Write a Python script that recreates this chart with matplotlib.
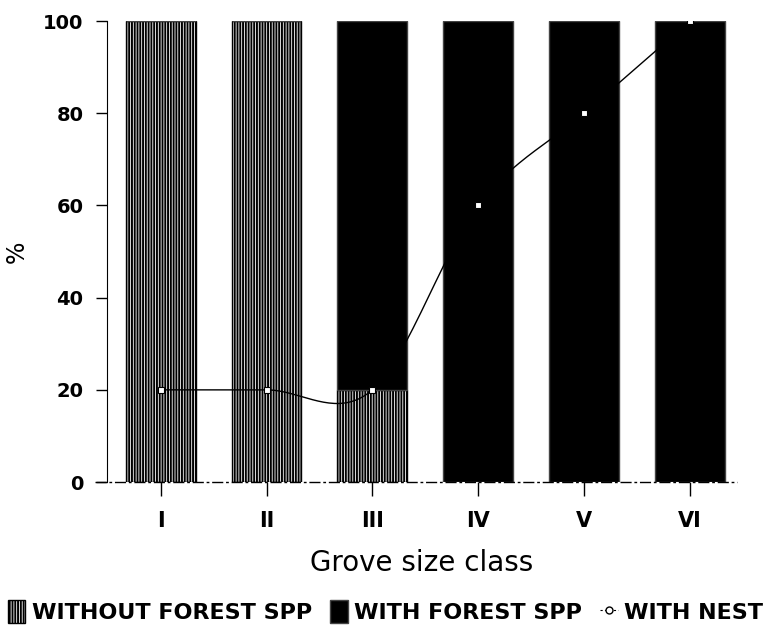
import numpy as np
import matplotlib.pyplot as plt
from matplotlib.patches import Patch
from matplotlib.lines import Line2D

plt.rcParams['font.family'] = ['DejaVu Sans']
plt.rcParams['hatch.linewidth'] = 1.4

# Data
classes = ["I", "II", "III", "IV", "V", "VI"]
without_forest = [100, 100, 20, 0, 0, 0]
with_forest = [0, 0, 80, 100, 100, 100]
with_nest = [20, 20, 20, 60, 80, 100]


# Catmull-Rom curve, only used to draw the smooth line through the points
def smooth_line(x, y, n=40):
    x = np.asarray(x, float)
    y = np.asarray(y, float)
    m = np.gradient(y, x)
    xs, ys = [], []
    for i in range(len(x) - 1):
        t = np.linspace(0, 1, n)
        h = x[i + 1] - x[i]
        h00 = 2 * t**3 - 3 * t**2 + 1
        h10 = t**3 - 2 * t**2 + t
        h01 = -2 * t**3 + 3 * t**2
        h11 = t**3 - t**2
        xs.append(x[i] + t * h)
        ys.append(h00 * y[i] + h10 * h * m[i] + h01 * y[i + 1] + h11 * h * m[i + 1])
    return np.concatenate(xs), np.concatenate(ys)


x = np.arange(len(classes))

fig = plt.figure(figsize=(7.71, 6.34), dpi=100)
ax = fig.add_axes([0.1388, 0.2397, 0.817, 0.727])

ax.bar(x, without_forest, width=0.66, color="white", edgecolor="black",
       hatch="||||||", linewidth=1)
ax.bar(x, with_forest, width=0.66, bottom=without_forest, color="black",
       edgecolor="#444444", linewidth=1)

sx, sy = smooth_line(x, with_nest)
ax.plot(sx, sy, color="black", lw=1)
ax.plot(x, with_nest, ls="none", marker="s", ms=5, mfc="white", mec="black", mew=0.8)

ax.set_xlim(-0.507, 5.444)
ax.set_ylim(0, 100)
ax.set_yticks([0, 20, 40, 60, 80, 100])
ax.set_xticks(x)
ax.set_xticklabels(classes, fontweight="bold", fontsize=15)
ax.set_yticklabels([str(v) for v in ax.get_yticks().astype(int)],
                   fontweight="bold", fontsize=14)
ax.tick_params(axis="x", length=10, width=1, pad=11)
ax.tick_params(axis="y", length=8, width=1, pad=9)

ax.spines["top"].set_visible(False)
ax.spines["right"].set_visible(False)
ax.spines["bottom"].set_visible(False)
# bottom axis line runs a bit past the left spine
ax.add_line(Line2D([-0.019, 1.0], [0, 0], transform=ax.transAxes, color="black",
                   lw=1, ls=(0, (8, 2, 2, 2)), clip_on=False))

ax.set_xlabel("Grove size class", fontsize=20, labelpad=13)
ax.set_ylabel("%", fontsize=17, labelpad=10)

handles = [
    Patch(facecolor="white", edgecolor="black", hatch="||||||", label="WITHOUT FOREST SPP"),
    Patch(facecolor="black", edgecolor="#444444", label="WITH FOREST SPP"),
    Line2D([], [], color="black", lw=0.8, ls=(0, (2, 2)), marker="o", ms=5,
           mfc="white", mec="black", label="WITH NEST"),
]
fig.legend(handles=handles, loc="center", bbox_to_anchor=(0.5, 0.035), ncol=3,
           frameon=False, prop={"weight": "bold", "size": 16}, handlelength=0.8,
           handleheight=1.2, handletextpad=0.3, columnspacing=0.8, borderpad=0)

plt.savefig("out.png")
